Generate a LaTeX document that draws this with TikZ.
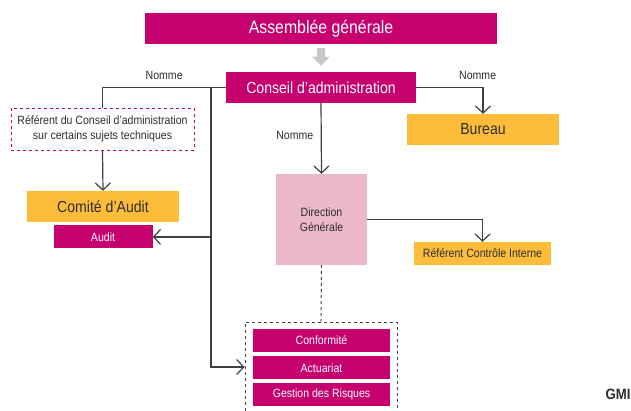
\documentclass[tikz,border=0pt]{standalone}
\usepackage{fontspec}
\setmainfont{Liberation Sans}[FakeStretch=0.88]
\usepackage{tikz}
\usetikzlibrary{arrows.meta,positioning}
\definecolor{gmimag}{HTML}{C6006E}
\definecolor{gmiyel}{HTML}{FDBD3B}
\definecolor{gmipink}{HTML}{EBB8CB}
\definecolor{gmiline}{HTML}{404040}
\definecolor{gmitext}{HTML}{2E2E2E}
\tikzstyle{magbox} = [rectangle, fill=gmimag, text=white, inner sep=0pt, text centered]
\tikzstyle{yelbox} = [rectangle, fill=gmiyel, text=gmitext, inner sep=0pt, text centered]
\tikzstyle{bigfont} = [font=\fontsize{16}{19}\selectfont]
\tikzstyle{smallfont} = [font=\fontsize{12}{15}\selectfont]
\tikzstyle{conn} = [draw=gmiline, line width=1.2pt, -{Straight Barb[length=7pt,width=15pt]}]
\tikzstyle{plain} = [draw=gmiline, line width=1.2pt]
\tikzstyle{bigarrow} = [draw=black!22, line width=8pt, -{Triangle[length=9pt,width=17pt]}, shorten <=4pt, shorten >=6pt]
\begin{document}
\begin{tikzpicture}[x=1pt, y=-1pt]
			\useasboundingbox (0,0) rectangle (631,410);
			\node[magbox, minimum width=352pt, minimum height=31pt, font=\fontsize{18}{21}\selectfont] (ag) at (321,28.5) {Assemblée générale};
			\node[magbox, bigfont, minimum width=190pt, minimum height=31pt] (ca) at (321,87.5) {Conseil d’administration};
			\node[rectangle, draw=gmimag, dashed, line width=0.8pt, smallfont, text=gmitext, align=center, minimum width=183pt, minimum height=42pt, inner sep=0pt] (refca) at (102.5,129) {Référent du Conseil d’administration\\sur certains sujets techniques};
			\node[yelbox, bigfont, minimum width=152pt, minimum height=31pt] (comite) at (103,206.5) {Comité d’Audit};
			\node[magbox, smallfont, minimum width=99pt, minimum height=23pt, below=3pt of comite] (audit) {Audit};
			\node[yelbox, bigfont, minimum width=152pt, minimum height=31pt] (bureau) at (483,129.5) {Bureau};
			\node[rectangle, fill=gmipink, smallfont, text=gmitext, align=center, minimum width=91pt, minimum height=91pt, inner sep=0pt] (dg) at (321.5,219.5) {Direction\\Générale};
			\node[yelbox, smallfont, minimum width=137pt, minimum height=23pt] (rci) at (482.5,253.5) {Référent Contrôle Interne};
			
			% fonctions cles
			\node[rectangle, draw=gmiline, dashed, line width=1pt, minimum width=152pt, minimum height=90pt, inner sep=0pt] (fonct) at (321,367) {};
			\node[magbox, smallfont, minimum width=137pt, minimum height=23pt] (conf) at (321.5,340.5) {Conformité};
			\node[magbox, smallfont, minimum width=137pt, minimum height=23pt, below=4pt of conf] (act) {Actuariat};
			\node[magbox, smallfont, minimum width=137pt, minimum height=23pt, below=3pt of act] (risk) {Gestion des Risques};
			
			\node[font=\fontsize{15}{18}\selectfont\bfseries, text=gmitext, inner sep=0pt] (gmi) at (618,394) {GMI};
			
			%arrow
			\draw [bigarrow] (ag) -- (ca);
			\coordinate (j1) at (211,87.5);
			\draw [plain] (ca.west) -| node[pos=0.25, above=4pt, smallfont, text=gmitext]{Nomme} (refca.north);
			\draw [conn] (refca.south) -- (comite.north);
			\draw [conn] (j1) |- (fonct.west);
			\draw [conn] (audit.east -| j1) -- (audit.east);
			\draw [conn] (ca.east) -| node[pos=0.46, above=4pt, smallfont, text=gmitext]{Nomme} (bureau.north);
			\draw [conn] (ca.south) -- node[pos=0.46, left=4pt, smallfont, text=gmitext]{Nomme} (dg.north);
			\draw [conn] (dg.east) -| (rci.north);
			\draw [plain, dashed, line width=1pt] (dg.south) -- (fonct.north);
			
		\end{tikzpicture}
\end{document}
